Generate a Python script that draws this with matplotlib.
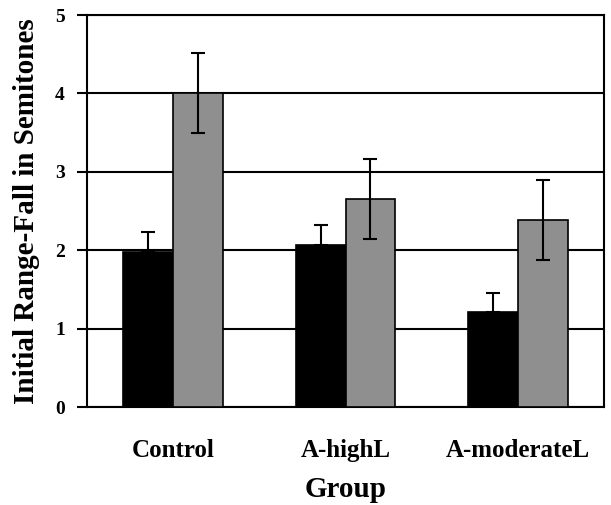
import matplotlib.pyplot as plt
import numpy as np

# Mean initial range-fall (semitones) per group, two conditions, with error bars
groups = ['Control', 'A-highL', 'A-moderateL']
cond1_means = [1.98, 2.06, 1.21]
cond1_err = [0.25, 0.26, 0.25]
cond2_means = [4.00, 2.65, 2.38]
cond2_err = [0.51, 0.51, 0.51]

plt.rcParams['font.family'] = ['Liberation Serif', 'DejaVu Serif']
plt.rcParams['font.weight'] = 'bold'

fig = plt.figure(figsize=(6.11, 5.05), dpi=100)
ax = fig.add_axes([87 / 611, 1 - 407 / 505, (604 - 87) / 611, (407 - 15) / 505])

x = np.arange(len(groups))
w = 0.29
err_kw = dict(ecolor='black', elinewidth=1.5, capsize=5, capthick=1.5)
ax.bar(x - w / 2, cond1_means, w, yerr=[[0] * 3, cond1_err], color='black',
       edgecolor='black', linewidth=1.2, error_kw=err_kw, zorder=3)
ax.bar(x + w / 2, cond2_means, w, yerr=cond2_err, color='#8f8f8f',
       edgecolor='black', linewidth=1.2, error_kw=err_kw, zorder=3)

ax.set_xlim(-0.5, 2.5)
ax.set_ylim(0, 5)
ax.set_yticks(range(6))
ax.yaxis.grid(True, color='black', linewidth=1.5, zorder=0)
ax.set_axisbelow(True)
for s in ax.spines.values():
    s.set_linewidth(1.5)

ax.tick_params(axis='y', length=7, width=1.5, labelsize=14, pad=9)
ax.tick_params(axis='x', length=0, labelsize=18, pad=23)
ax.set_xticks(x)
ax.set_xticklabels(groups, fontweight='bold')
for t in ax.get_yticklabels():
    t.set_fontweight('bold')

ax.set_xlabel('Group', fontsize=21, fontweight='bold', labelpad=10)
ax.set_ylabel('Initial Range-Fall in Semitones', fontsize=21, fontweight='bold', labelpad=11)

fig.savefig('out.png', dpi=100, facecolor='white')
